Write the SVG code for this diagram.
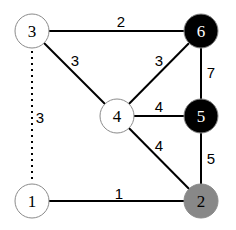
<svg xmlns="http://www.w3.org/2000/svg" width="236" height="230" viewBox="0 0 236 230">
<style>
.e{stroke:#000;stroke-width:2;fill:none}
.d{stroke:#000;stroke-width:2;stroke-dasharray:2,4;fill:none}
.n{stroke:#8a8a8a;stroke-width:1}
.nl{font-family:"Liberation Serif",serif;font-size:17px;text-anchor:middle}
.el{font-family:"Liberation Sans",sans-serif;font-size:15px;text-anchor:middle;fill:#000}
</style>
<rect width="236" height="230" fill="#fff"/>
<g id="edges">
<line class="e" x1="32" y1="31" x2="201" y2="31"/>
<line class="e" x1="32" y1="31" x2="117" y2="116"/>
<line class="e" x1="117" y1="116" x2="201" y2="31"/>
<line class="e" x1="117" y1="116" x2="201" y2="116"/>
<line class="e" x1="117" y1="116" x2="201" y2="201"/>
<line class="e" x1="201" y1="31" x2="201" y2="201"/>
<line class="e" x1="32" y1="201" x2="201" y2="201"/>
<line class="d" x1="32" y1="51" x2="32" y2="183"/>
<text class="el" x="121" y="27">2</text>
<text class="el" x="75" y="66">3</text>
<text class="el" x="159" y="66">3</text>
<text class="el" x="40" y="123">3</text>
<text class="el" x="211" y="78">7</text>
<text class="el" x="159" y="112">4</text>
<text class="el" x="159" y="151">4</text>
<text class="el" x="211" y="164">5</text>
<text class="el" x="119" y="199">1</text>
</g>
<g id="node3"><circle class="n" cx="32" cy="31" r="17" fill="#fff"/><text class="nl" x="32" y="37">3</text></g>
<g id="node6"><circle class="n" cx="201" cy="31" r="17" fill="#000"/><text class="nl" x="201" y="37" fill="#fff">6</text></g>
<g id="node4"><circle class="n" cx="117" cy="116" r="17" fill="#fff"/><text class="nl" x="117" y="122">4</text></g>
<g id="node5"><circle class="n" cx="201" cy="116" r="17" fill="#000"/><text class="nl" x="201" y="122" fill="#fff">5</text></g>
<g id="node1"><circle class="n" cx="32" cy="201" r="17" fill="#fff"/><text class="nl" x="32" y="207">1</text></g>
<g id="node2"><circle class="n" cx="201" cy="201" r="17" fill="#888"/><text class="nl" x="201" y="207">2</text></g>
</svg>
